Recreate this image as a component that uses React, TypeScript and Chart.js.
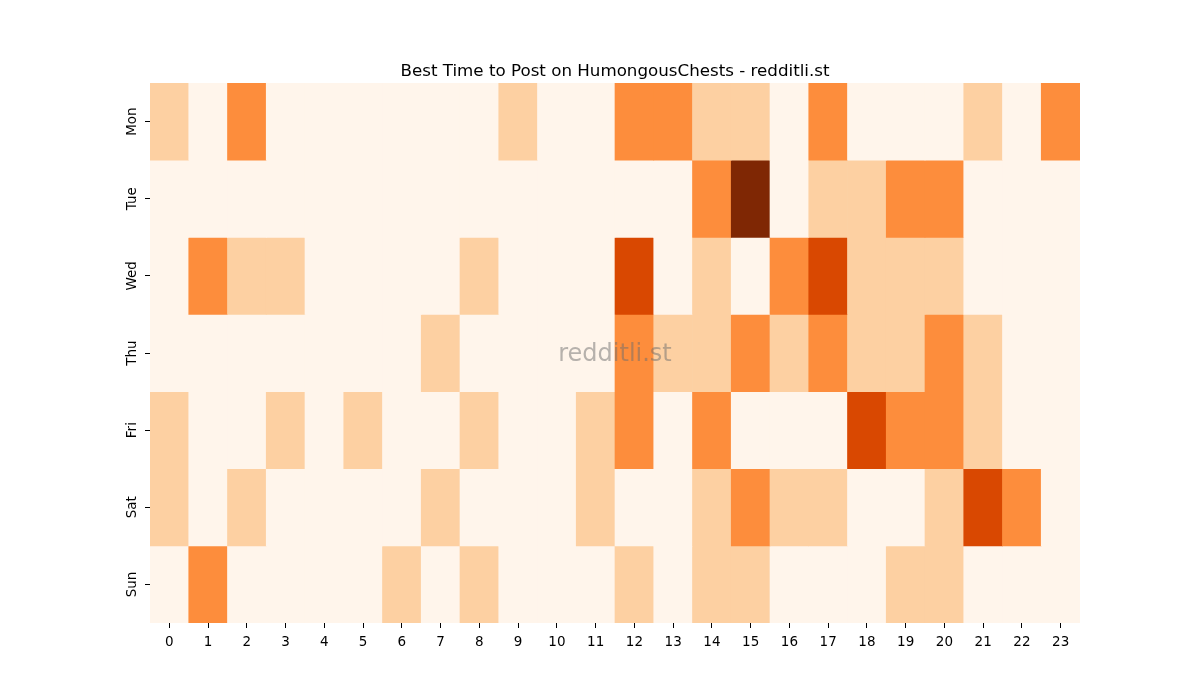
import React, { useEffect, useRef } from 'react';
import { Chart, registerables } from 'chart.js';

Chart.register(...registerables);

const days = ['Mon', 'Tue', 'Wed', 'Thu', 'Fri', 'Sat', 'Sun'];
const hours = ['0', '1', '2', '3', '4', '5', '6', '7', '8', '9', '10', '11', '12', '13', '14', '15', '16', '17', '18', '19', '20', '21', '22', '23'];

// activity level per hour (0 = none ... 4 = best)
const mon = [1, 0, 2, 0, 0, 0, 0, 0, 0, 1, 0, 0, 2, 2, 1, 1, 0, 2, 0, 0, 0, 1, 0, 2];
const tue = [0, 0, 0, 0, 0, 0, 0, 0, 0, 0, 0, 0, 0, 0, 2, 4, 0, 1, 1, 2, 2, 0, 0, 0];
const wed = [0, 2, 1, 1, 0, 0, 0, 0, 1, 0, 0, 0, 3, 0, 1, 0, 2, 3, 1, 1, 1, 0, 0, 0];
const thu = [0, 0, 0, 0, 0, 0, 0, 1, 0, 0, 0, 0, 2, 1, 1, 2, 1, 2, 1, 1, 2, 1, 0, 0];
const fri = [1, 0, 0, 1, 0, 1, 0, 0, 1, 0, 0, 1, 2, 0, 2, 0, 0, 0, 3, 2, 2, 1, 0, 0];
const sat = [1, 0, 1, 0, 0, 0, 0, 1, 0, 0, 0, 1, 0, 0, 1, 2, 1, 1, 0, 0, 1, 3, 2, 0];
const sun = [0, 2, 0, 0, 0, 0, 1, 0, 1, 0, 0, 0, 1, 0, 1, 1, 0, 0, 0, 1, 1, 0, 0, 0];

const levels = [mon, tue, wed, thu, fri, sat, sun];
const palette = ['#fff5eb', '#fdd0a2', '#fd8d3c', '#d94801', '#7f2704'];

const FONT = "'DejaVu Sans', sans-serif";

const watermark = {
  id: 'watermark',
  afterDraw(chart: Chart) {
    const { ctx, chartArea } = chart;
    ctx.save();
    ctx.font = `24px ${FONT}`;
    ctx.fillStyle = 'rgba(110,110,110,0.5)';
    ctx.textAlign = 'center';
    ctx.textBaseline = 'middle';
    ctx.fillText('redditli.st', (chartArea.left + chartArea.right) / 2, (chartArea.top + chartArea.bottom) / 2 + 2);
    ctx.restore();
  },
};

const App: React.FC = () => {
  const canvasRef = useRef<HTMLCanvasElement>(null);
  const chartRef = useRef<Chart | null>(null);

  useEffect(() => {
    if (!canvasRef.current) return;
    if (chartRef.current) chartRef.current.destroy();

    const datasets = days.map((day, i) => ({
      label: day,
      data: levels[i].map(() => [i, i + 1]),
      backgroundColor: levels[i].map((v) => palette[v]),
      borderWidth: 0,
      barPercentage: 1,
      categoryPercentage: 1,
      grouped: false,
    }));

    chartRef.current = new Chart(canvasRef.current, {
      type: 'bar',
      data: { labels: hours, datasets: datasets as any },
      plugins: [watermark],
      options: {
        animation: false,
        responsive: false,
        devicePixelRatio: 1,
        layout: { padding: { left: 0, right: 120, top: 0, bottom: 37 } },
        scales: {
          x: {
            type: 'category',
            offset: true,
            grid: { offset: false, drawOnChartArea: false, drawTicks: true, tickLength: 5, color: '#000' },
            border: { display: false },
            ticks: { color: '#000', padding: 6, font: { family: FONT, size: 13.5 }, maxRotation: 0, autoSkip: false },
            afterFit: (axis: any) => {
              axis.height = 40;
            },
          },
          y: {
            type: 'linear',
            min: 0,
            max: 7,
            reverse: true,
            afterBuildTicks: (axis: any) => {
              axis.ticks = days.map((_, i) => ({ value: i + 0.5 }));
            },
            grid: { drawOnChartArea: false, drawTicks: true, tickLength: 5, color: '#000' },
            border: { display: false },
            ticks: {
              color: '#000',
              padding: -2,
              minRotation: 90,
              maxRotation: 90,
              crossAlign: 'center',
              font: { family: FONT, size: 13.5 },
              callback: (v: any) => days[Math.floor(Number(v))],
            },
            afterFit: (axis: any) => {
              axis.width = 150;
            },
          },
        },
        plugins: {
          legend: { display: false },
          tooltip: { enabled: false },
          title: {
            display: true,
            fullSize: false,
            text: 'Best Time to Post on HumongousChests - redditli.st',
            color: '#000',
            font: { family: FONT, size: 16.7, weight: 'normal' },
            padding: { top: 62, bottom: 1 },
          },
        },
      },
    });

    return () => {
      if (chartRef.current) {
        chartRef.current.destroy();
        chartRef.current = null;
      }
    };
  }, []);

  return (
    <div style={{ position: 'absolute', left: 0, top: 0, width: 1200, height: 700, background: '#fff' }}>
      <canvas ref={canvasRef} width={1200} height={700}></canvas>
    </div>
  );
};

export default App;
